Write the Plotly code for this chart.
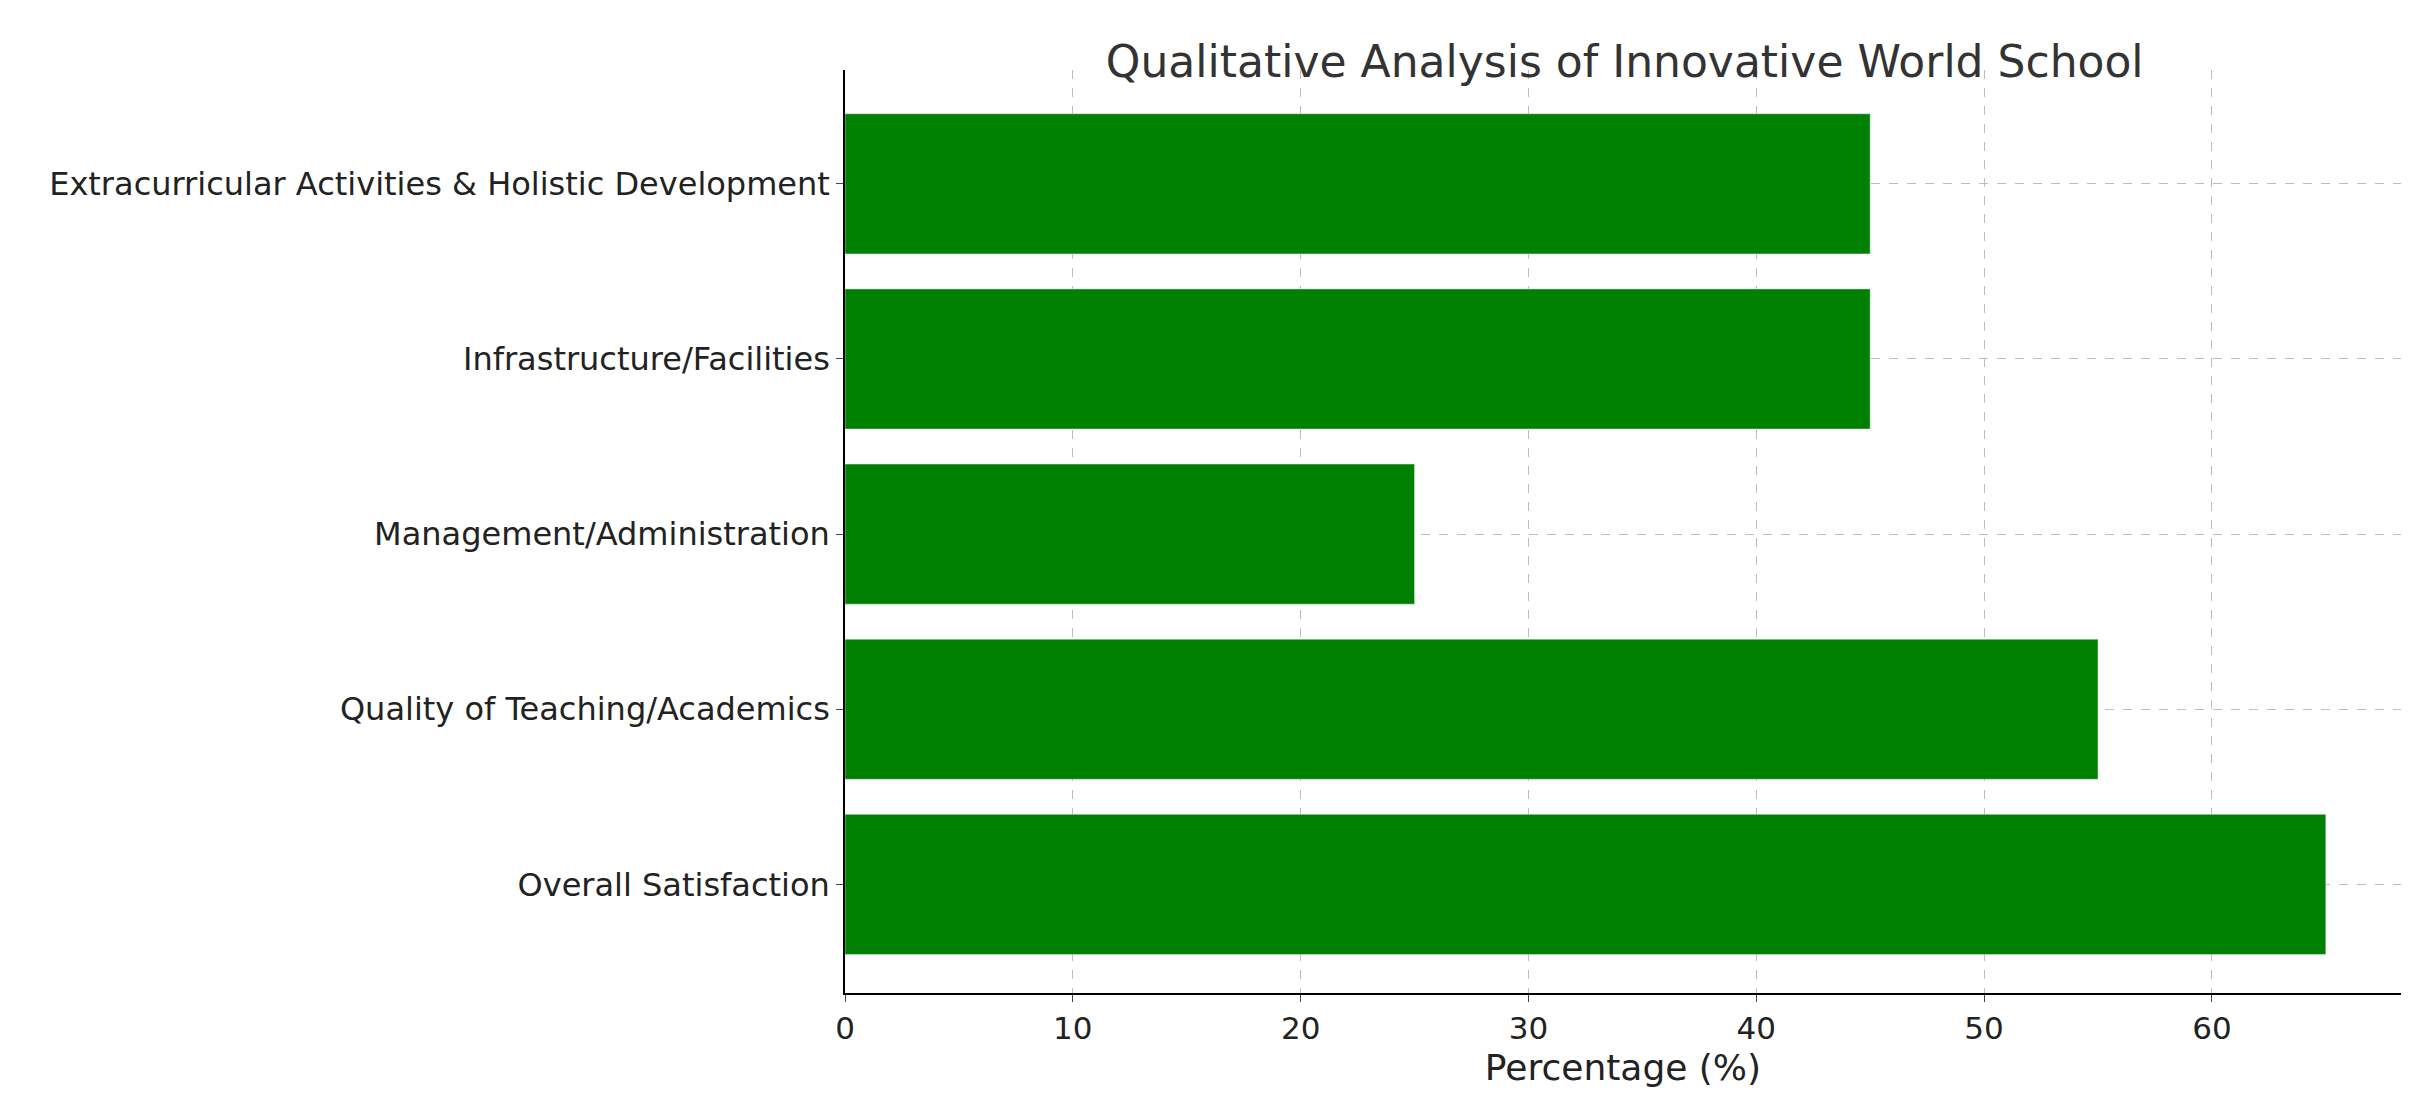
import plotly.graph_objects as go

categories = ["Overall Satisfaction", "Quality of Teaching/Academics", "Management/Administration",
              "Infrastructure/Facilities", "Extracurricular Activities & Holistic Development"]
values = [65, 55, 25, 45, 45]

fig = go.Figure(go.Bar(x=values, y=categories, orientation="h", marker_color="green", width=0.8))
fig.update_layout(
    width=2413, height=1101, plot_bgcolor="white", paper_bgcolor="white",
    font=dict(family="DejaVu Sans", size=30, color="#222"),
    title=dict(text="Qualitative Analysis of Innovative World School", x=0.67, xanchor="center",
               y=0.965, font=dict(size=44, color="#333")),
    margin=dict(l=837, r=20, t=62, b=116),
    showlegend=False,
)
fig.update_xaxes(range=[0, 68.3], dtick=10, showgrid=True, gridcolor="#bdbdbd", griddash="dash",
                 showline=True, linecolor="black", linewidth=1.5, ticks="outside", ticklen=7,
                 zeroline=False, title=dict(text="Percentage (%)", standoff=10), tickfont=dict(size=31))
fig.update_yaxes(range=[-0.62, 4.65], showgrid=True, gridcolor="#bdbdbd", griddash="dash",
                 showline=True, linecolor="black", linewidth=1.5, ticks="outside", ticklen=7,
                 tickfont=dict(size=32))
fig.write_html("out.html")
